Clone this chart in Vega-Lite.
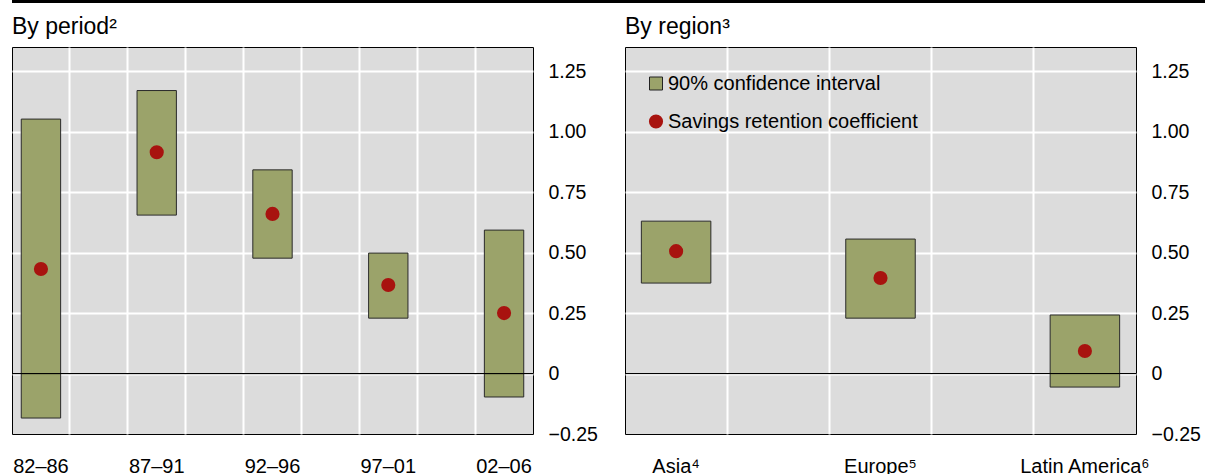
{
  "$schema": "https://vega.github.io/schema/vega-lite/v6.json",
  "padding": 0,
  "autosize": {"type": "pad"},
  "background": "white",
  "config": {
    "font": "Liberation Sans",
    "view": {"stroke": "black", "strokeWidth": 1},
    "title": {"font": "Liberation Sans", "fontSize": 23, "fontWeight": "normal", "color": "black", "anchor": "start", "frame": "group", "offset": 8},
    "axis": {"labelFont": "Liberation Sans", "labelColor": "black", "labelFontSize": 19.5, "title": null, "ticks": false, "tickSize": 0, "domain": false},
    "legend": {"labelFont": "Liberation Sans", "labelColor": "black", "labelFontSize": 20, "labelLimit": 500}
  },
  "datasets": {
    "period": [
      {"period": "82–86", "low": -0.184, "high": 1.052, "coef": 0.432},
      {"period": "87–91", "low": 0.655, "high": 1.170, "coef": 0.915},
      {"period": "92–96", "low": 0.477, "high": 0.842, "coef": 0.660},
      {"period": "97–01", "low": 0.229, "high": 0.498, "coef": 0.366},
      {"period": "02–06", "low": -0.097, "high": 0.593, "coef": 0.250}
    ],
    "region": [
      {"region": "Asia⁴", "low": 0.374, "high": 0.630, "coef": 0.506},
      {"region": "Europe⁵", "low": 0.229, "high": 0.556, "coef": 0.395},
      {"region": "Latin America⁶", "low": -0.056, "high": 0.242, "coef": 0.093}
    ]
  },
  "spacing": 12,
  "vconcat": [
    {
      "width": 1205,
      "height": 3,
      "view": {"fill": "black", "stroke": null},
      "data": {"values": [{"k": 1}]},
      "mark": {"type": "rect", "color": "black"},
      "encoding": {}
    },
    {
      "spacing": 26,
      "hconcat": [
        {
          "width": 521,
          "height": 387,
          "title": {"text": "By period²"},
          "data": {"name": "period"},
          "view": {"fill": "#DCDCDC", "stroke": "black"},
          "resolve": {"axis": {"x": "independent", "y": "independent"}},
          "layer": [
            {
              "mark": {"type": "bar", "width": {"band": 0.68}, "fill": "#9BA36A", "stroke": "#2a2a2a", "strokeWidth": 1},
              "encoding": {
                "x": {"field": "period", "type": "nominal", "sort": null,
                  "scale": {"paddingInner": 0.5, "paddingOuter": 0},
                  "axis": {"orient": "bottom", "grid": false, "labelPadding": 22, "labelAngle": 0, "labelFontSize": 20}},
                "y": {"field": "low", "type": "quantitative",
                  "scale": {"domain": [-0.25, 1.35], "nice": false, "zero": false},
                  "axis": {"orient": "right", "grid": false, "values": [-0.25, 0, 0.25, 0.5, 0.75, 1, 1.25], "labelPadding": 15, "labelAlign": "left",
                    "labelExpr": "datum.value == 0 ? '0' : replace(format(datum.value, '.2f'), '-', '–')"}},
                "y2": {"field": "high"}
              }
            },
            {
              "mark": {"type": "rule", "color": "black", "strokeWidth": 1},
              "encoding": {"y": {"datum": 0, "type": "quantitative", "axis": null}}
            },
            {
              "mark": {"type": "point", "filled": true, "size": 200, "color": "#A8130F", "opacity": 1},
              "encoding": {
                "x": {"field": "period", "type": "nominal", "sort": null,
                  "axis": {"orient": "bottom", "labels": false, "grid": true, "gridColor": "white", "gridWidth": 2, "gridOpacity": 1, "bandPosition": 0, "values": ["87–91", "92–96", "97–01", "02–06"]}},
                "y": {"field": "coef", "type": "quantitative",
                  "axis": {"orient": "left", "labels": false, "grid": true, "gridColor": "white", "gridWidth": 2, "gridOpacity": 1, "values": [0, 0.25, 0.5, 0.75, 1, 1.25], "minExtent": 11, "maxExtent": 11}}
              }
            },
            {
              "mark": {"type": "point", "opacity": 0},
              "encoding": {
                "x": {"field": "period", "type": "nominal", "sort": null,
                  "axis": {"orient": "bottom", "labels": false, "grid": true, "gridColor": "white", "gridWidth": 2, "gridOpacity": 1, "bandPosition": 1, "values": ["82–86", "87–91", "92–96", "97–01"]}},
                "y": {"field": "coef", "type": "quantitative", "axis": null}
              }
            }
          ]
        },
        {
          "width": 511,
          "height": 387,
          "title": {"text": "By region³"},
          "data": {"name": "region"},
          "view": {"fill": "#DCDCDC", "stroke": "black"},
          "resolve": {"axis": {"x": "independent", "y": "independent"}},
          "layer": [
            {
              "mark": {"type": "bar", "width": {"band": 0.68}, "stroke": "#2a2a2a", "strokeWidth": 1},
              "encoding": {
                "x": {"field": "region", "type": "nominal", "sort": null,
                  "scale": {"paddingInner": 0.5, "paddingOuter": 0},
                  "axis": {"orient": "bottom", "grid": false, "labelPadding": 22, "labelAngle": 0, "labelFontSize": 20}},
                "y": {"field": "low", "type": "quantitative",
                  "scale": {"domain": [-0.25, 1.35], "nice": false, "zero": false},
                  "axis": {"orient": "right", "grid": false, "values": [-0.25, 0, 0.25, 0.5, 0.75, 1, 1.25], "labelPadding": 15, "labelAlign": "left",
                    "labelExpr": "datum.value == 0 ? '0' : replace(format(datum.value, '.2f'), '-', '–')"}},
                "y2": {"field": "high"},
                "fill": {"datum": "90% confidence interval", "type": "nominal",
                  "scale": {"range": ["#9BA36A"]},
                  "legend": {"orient": "none", "legendX": 634, "legendY": 73.5, "title": null, "symbolType": "square", "symbolSize": 169,
                    "symbolStrokeColor": "#222222", "symbolStrokeWidth": 1, "labelOffset": 2, "padding": 0,
                    "encode": {"symbols": {"update": {"stroke": {"value": "#222222"}, "strokeWidth": {"value": 1}}}}}}
              }
            },
            {
              "mark": {"type": "rule", "color": "black", "strokeWidth": 1},
              "encoding": {"y": {"datum": 0, "type": "quantitative", "axis": null}}
            },
            {
              "mark": {"type": "point", "filled": true, "size": 200, "opacity": 1},
              "encoding": {
                "x": {"field": "region", "type": "nominal", "sort": null,
                  "axis": {"orient": "bottom", "labels": false, "grid": true, "gridColor": "white", "gridWidth": 2, "gridOpacity": 1, "bandPosition": 0, "values": ["Europe⁵", "Latin America⁶"]}},
                "y": {"field": "coef", "type": "quantitative",
                  "axis": {"orient": "left", "labels": false, "grid": true, "gridColor": "white", "gridWidth": 2, "gridOpacity": 1, "values": [0, 0.25, 0.5, 0.75, 1, 1.25]}},
                "color": {"datum": "Savings retention coefficient", "type": "nominal",
                  "scale": {"range": ["#A8130F"]},
                  "legend": {"orient": "none", "legendX": 634, "legendY": 111.5, "title": null, "symbolType": "circle", "symbolSize": 200, "labelOffset": 2, "padding": 0}}
              }
            },
            {
              "mark": {"type": "point", "opacity": 0},
              "encoding": {
                "x": {"field": "region", "type": "nominal", "sort": null,
                  "axis": {"orient": "bottom", "labels": false, "grid": true, "gridColor": "white", "gridWidth": 2, "gridOpacity": 1, "bandPosition": 1, "values": ["Asia⁴", "Europe⁵"]}},
                "y": {"field": "coef", "type": "quantitative", "axis": null}
              }
            }
          ]
        }
      ]
    }
  ]
}
